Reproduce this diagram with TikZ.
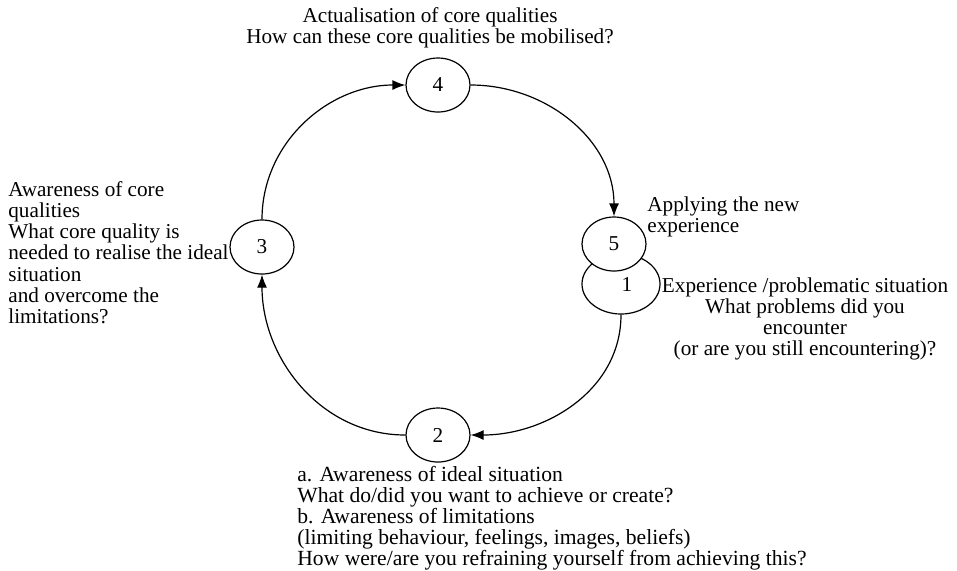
\documentclass[tikz,border=0pt]{standalone}
\usepackage{fontspec}
\setmainfont{Liberation Serif}
\usetikzlibrary{shapes.geometric,arrows.meta}
\tikzset{
  stage/.style={draw, ellipse, fill=white, inner sep=0pt, line width=0.6pt,
    minimum width=32pt, minimum height=27pt},
  note/.style={inner sep=0pt, font=\fontsize{10.6pt}{10.6pt}\selectfont},
  link/.style={-{Latex[length=6.5pt,width=5pt]}, line width=0.6pt},
}
\begin{document}
\begin{tikzpicture}[x=0.5pt,y=-0.5pt,every node/.style={font=\fontsize{10.6pt}{10.6pt}\selectfont}]
\useasboundingbox (0,0) rectangle (957,570);
\node[stage, minimum width=39pt, minimum height=30pt] (S_1) at (621,284) {\hspace{6pt}1};
\node[stage] (S_5) at (614,244) {5};
\node[stage] (S_4) at (438,85) {4};
\node[stage] (S_3) at (262,247) {3};
\node[stage] (S_2) at (438,435) {2};
\draw[link] (S_3) to[out=90, in=180] (S_4);
\draw[link] (S_4) to[out=0, in=90] (S_5);
\draw[link] (S_1) to[out=-90, in=0] (S_2);
\draw[link] (S_2) to[out=180, in=-90] (S_3);
\node[note, align=center, anchor=north] (T_4) at (430,7)
  {Actualisation of core qualities\\How can these core qualities be mobilised?};
\node[note, align=left, anchor=north west] (T_3) at (8,181)
  {Awareness of core\\qualities\\What core quality is\\needed to realise the ideal\\situation\\and overcome the\\limitations?};
\node[note, align=left, anchor=north west] (T_5) at (647,196)
  {Applying the new\\experience};
\node[note, align=center, anchor=north] (T_1) at (805,277)
  {Experience /problematic situation\\What problems did you\\encounter\\(or are you still encountering)?};
\node[note, font=\fontsize{10.8pt}{10.45pt}\selectfont, align=left, anchor=north west] (T_2) at (297,466)
  {a. Awareness of ideal situation\\What do/did you want to achieve or create?\\b. Awareness of limitations\\(limiting behaviour, feelings, images, beliefs)\\How were/are you refraining yourself from achieving this?};
\end{tikzpicture}
\end{document}
